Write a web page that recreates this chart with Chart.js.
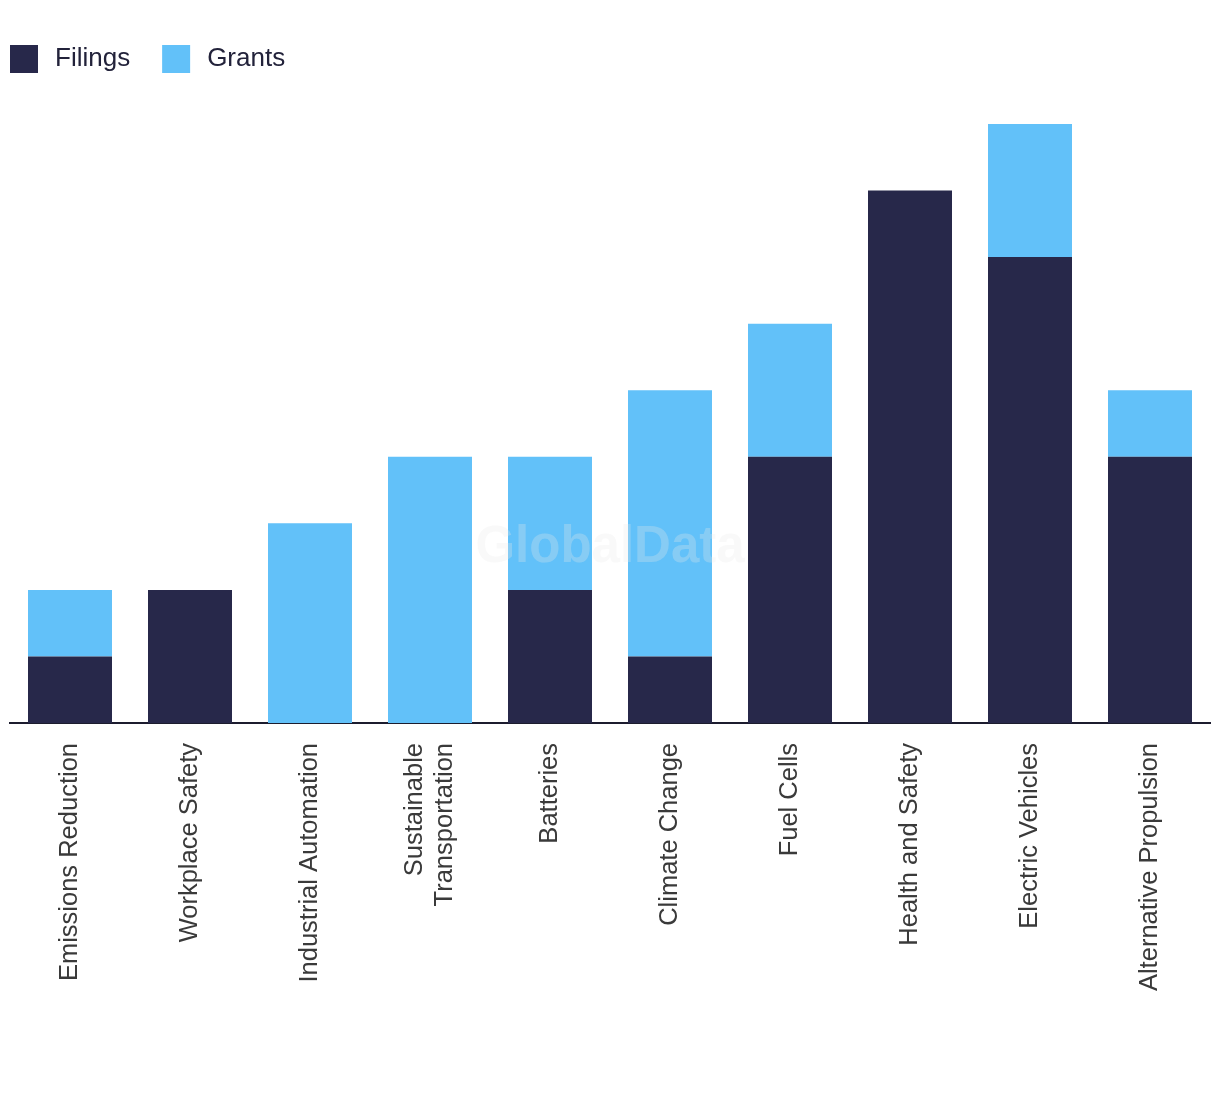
<!DOCTYPE html>
<html>
<head>
<meta charset="utf-8">
<script src="https://cdn.jsdelivr.net/npm/chart.js@4"></script>
<style>
  html, body { margin: 0; padding: 0; background: #fff; }
  #wrap { width: 1220px; height: 1094px; }
</style>
</head>
<body>
<div id="wrap"><canvas id="chart"></canvas></div>
<script>
// data
const categories = [
  'Emissions Reduction', 'Workplace Safety', 'Industrial Automation',
  ['Sustainable', 'Transportation'], 'Batteries', 'Climate Change',
  'Fuel Cells', 'Health and Safety', 'Electric Vehicles', 'Alternative Propulsion'
];
const filings = [1, 2, 0, 0, 2, 1, 4, 8, 7, 4];
const grants = [1, 0, 3, 4, 2, 4, 2, 0, 2, 1];
const yMax = 9;

const NAVY = '#27284a';
const BLUE = '#62c1f9';
const FONT = "'Liberation Sans', Arial, sans-serif";

// legend drawn at the top left, boxes + labels taken from the datasets
const topLegend = {
  id: 'topLegend',
  afterDraw(chart) {
    const ctx = chart.ctx;
    let x = 10;
    ctx.save();
    ctx.font = '26px ' + FONT;
    ctx.textBaseline = 'middle';
    chart.data.datasets.forEach(ds => {
      ctx.fillStyle = ds.backgroundColor;
      ctx.fillRect(x, 45, 28, 28);
      ctx.fillStyle = '#22223a';
      ctx.fillText(ds.label, x + 45, 59);
      x += 45 + ctx.measureText(ds.label).width + 32;
    });
    ctx.restore();
  }
};

// center two-line rotated tick labels on their bar
const centerLines = {
  id: 'centerLines',
  beforeDraw(chart) {
    const scale = chart.scales.x;
    scale.getLabelItems(chart.chartArea).forEach(item => {
      if (Array.isArray(item.label) && item.label.length > 1 && !item._centered) {
        item.textOffset -= item.font.lineHeight * (item.label.length - 1) / 2;
        item._centered = true;
      }
    });
  }
};

// faint watermark over the bars
const watermark = {
  id: 'watermark',
  afterDatasetsDraw(chart) {
    const { ctx, chartArea } = chart;
    ctx.save();
    ctx.font = 'bold 51px ' + FONT;
    ctx.fillStyle = 'rgba(232,232,232,0.28)';
    ctx.textAlign = 'center';
    ctx.textBaseline = 'middle';
    ctx.fillText('GlobalData', (chartArea.left + chartArea.right) / 2, 548);
    ctx.restore();
  }
};

new Chart(document.getElementById('chart'), {
  type: 'bar',
  data: {
    labels: categories,
    datasets: [
      { label: 'Filings', data: filings, backgroundColor: NAVY, barPercentage: 0.7, categoryPercentage: 1 },
      { label: 'Grants', data: grants, backgroundColor: BLUE, barPercentage: 0.7, categoryPercentage: 1 }
    ]
  },
  options: {
    responsive: true,
    maintainAspectRatio: false,
    animation: false,
    layout: { padding: { left: 10, right: 10, top: 124, bottom: 0 } },
    plugins: {
      legend: { display: false },
      tooltip: { enabled: false }
    },
    scales: {
      x: {
        stacked: true,
        grid: { display: false, drawTicks: false },
        border: { display: true, color: '#1c1c2e', width: 2 },
        ticks: {
          minRotation: 90,
          maxRotation: 90,
          padding: 20,
          color: '#3a3a3a',
          font: { family: FONT, size: 25.5 }
        },
        afterFit(scale) { scale.height = 371; }
      },
      y: {
        stacked: true,
        display: false,
        min: 0,
        max: yMax
      }
    }
  },
  plugins: [centerLines, watermark, topLegend]
});
</script>
</body>
</html>
